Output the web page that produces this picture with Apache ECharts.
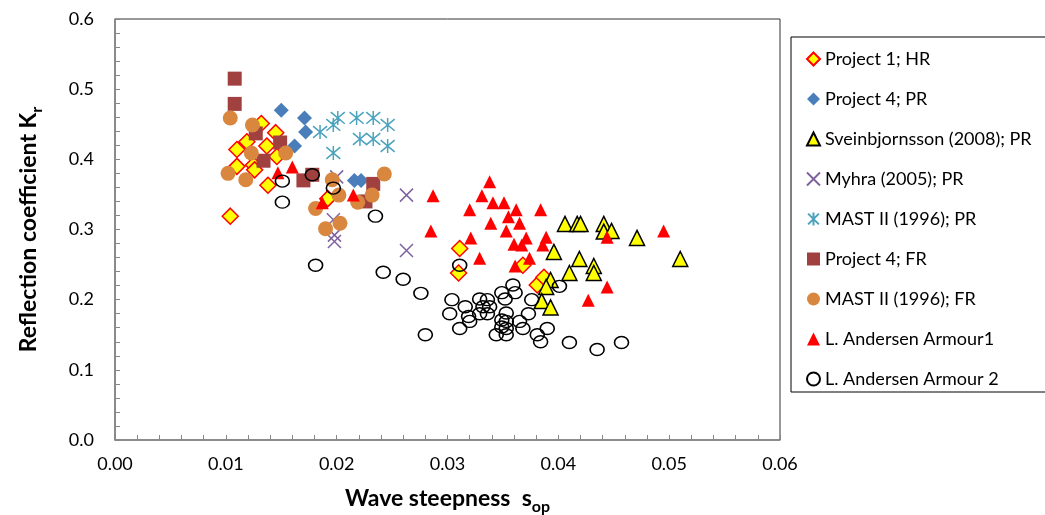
<!DOCTYPE html>
<html>
<head>
<meta charset="utf-8">
<script src="https://cdn.jsdelivr.net/npm/echarts@6/dist/echarts.min.js"></script>
<style>
html,body{margin:0;padding:0;background:#fff;}
#chart{width:1045px;height:515px;}
</style>
</head>
<body>
<div id="chart"></div>
<script>
// ---- data (wave steepness s_op, reflection coefficient Kr) ----
const seriesNames = [
  'Project 1; HR', 'Project 4; PR', 'Sveinbjornsson (2008); PR', 'Myhra (2005); PR',
  'MAST II (1996); PR', 'Project 4; FR', 'MAST II (1996); FR', 'L. Andersen Armour1', 'L. Andersen Armour 2'
];
const project1HR = [
  [0.0104,0.319],[0.0138,0.363],[0.0110,0.414],[0.0110,0.390],[0.0119,0.425],[0.0132,0.451],
  [0.0145,0.438],[0.0137,0.419],[0.0125,0.392],[0.0126,0.385],[0.0146,0.404],[0.0192,0.344],
  [0.0311,0.273],[0.0310,0.238],[0.0368,0.249],[0.0381,0.221],[0.0387,0.232]
];
const project4PR = [
  [0.0150,0.470],[0.0171,0.459],[0.0172,0.439],[0.0162,0.419],[0.0216,0.370],[0.0222,0.370]
];
const sveinbjornsson = [
  [0.0406,0.308],[0.0417,0.308],[0.0420,0.308],[0.0441,0.308],[0.0441,0.297],[0.0448,0.298],
  [0.0471,0.288],[0.0510,0.258],[0.0396,0.268],[0.0419,0.258],[0.0432,0.248],[0.0432,0.238],
  [0.0410,0.238],[0.0393,0.228],[0.0389,0.218],[0.0385,0.198],[0.0393,0.189]
];
const myhra = [
  [0.0200,0.375],[0.0263,0.349],[0.0197,0.314],[0.0198,0.292],[0.0198,0.283],[0.0263,0.270]
];
const mastPR = [
  [0.0185,0.439],[0.0197,0.449],[0.0201,0.459],[0.0218,0.459],[0.0233,0.459],[0.0246,0.449],
  [0.0221,0.429],[0.0233,0.429],[0.0246,0.419],[0.0197,0.409]
];
const project4FR = [
  [0.0108,0.515],[0.0108,0.479],[0.0127,0.437],[0.0149,0.424],[0.0134,0.398],[0.0170,0.370],
  [0.0178,0.378],[0.0233,0.365],[0.0226,0.340]
];
const mastFR = [
  [0.0104,0.459],[0.0124,0.449],[0.0102,0.380],[0.0118,0.371],[0.0123,0.409],[0.0154,0.409],
  [0.0196,0.371],[0.0202,0.349],[0.0181,0.330],[0.0190,0.301],[0.0203,0.309],[0.0243,0.379],
  [0.0232,0.349],[0.0219,0.339]
];
const andersen1 = [
  [0.0147,0.381],[0.0160,0.389],[0.0187,0.338],[0.0215,0.349],[0.0287,0.348],[0.0285,0.298],
  [0.0338,0.368],[0.0331,0.348],[0.0341,0.338],[0.0351,0.338],[0.0320,0.328],[0.0362,0.328],
  [0.0384,0.328],[0.0355,0.318],[0.0339,0.309],[0.0365,0.309],[0.0353,0.298],[0.0321,0.288],
  [0.0371,0.288],[0.0360,0.279],[0.0367,0.278],[0.0389,0.289],[0.0386,0.278],[0.0329,0.259],
  [0.0374,0.259],[0.0361,0.248],[0.0444,0.289],[0.0495,0.298],[0.0444,0.218],[0.0427,0.199]
];
const andersen2 = [
  [0.0151,0.369],[0.0151,0.339],[0.0178,0.378],[0.0197,0.359],[0.0181,0.249],[0.0235,0.319],
  [0.0242,0.239],[0.0260,0.229],[0.0276,0.209],[0.0280,0.150],[0.0311,0.249],[0.0304,0.200],
  [0.0316,0.190],[0.0302,0.180],[0.0319,0.176],[0.0320,0.169],[0.0311,0.159],[0.0329,0.201],
  [0.0336,0.200],[0.0332,0.190],[0.0338,0.190],[0.0329,0.180],[0.0336,0.180],[0.0349,0.210],
  [0.0359,0.221],[0.0361,0.210],[0.0352,0.201],[0.0353,0.181],[0.0349,0.171],[0.0353,0.169],
  [0.0349,0.161],[0.0353,0.159],[0.0344,0.150],[0.0353,0.150],[0.0365,0.169],[0.0373,0.180],
  [0.0368,0.159],[0.0376,0.200],[0.0381,0.150],[0.0384,0.140],[0.0390,0.159],[0.0401,0.219],
  [0.0410,0.139],[0.0435,0.129],[0.0457,0.139]
];
const xTickLabels = ['0.00','0.01','0.02','0.03','0.04','0.05','0.06'];
const yTickLabels = ['0.0','0.1','0.2','0.3','0.4','0.5','0.6'];

// ---- chart ----
const FONT = 'Lato, "Liberation Sans", sans-serif';
const X_PATH = 'path://M0,0L10,10M10,0L0,10';
const STAR_PATH = 'path://M0,0L10,10M10,0L0,10M5,-1L5,11';

function sc(name, data, symbol, size, style) {
  style.opacity = 1;
  return {
    name: name, type: 'scatter', data: data, symbol: symbol, symbolSize: size,
    itemStyle: style, emphasis: {disabled: true}, silent: true
  };
}

const chart = echarts.init(document.getElementById('chart'), null, {renderer: 'canvas'});
chart.setOption({
  animation: false,
  backgroundColor: '#fff',
  textStyle: {fontFamily: FONT},
  grid: {left: 115, right: 265, top: 19, bottom: 75, containLabel: false, outerBoundsMode: 'none',
    show: true, borderColor: '#333', borderWidth: 1, backgroundColor: 'transparent'},
  xAxis: {
    type: 'value', min: 0, max: 0.06, interval: 0.01,
    axisLine: {show: true, lineStyle: {color: '#868686', width: 1.5}},
    axisTick: {show: true, inside: true, length: 5, lineStyle: {color: '#868686'}},
    minorTick: {show: true, splitNumber: 5, length: 5, lineStyle: {color: '#868686'}},
    splitLine: {show: false},
    axisLabel: {margin: 15, fontSize: 18, color: '#000', fontFamily: FONT,
      formatter: function (v) { return xTickLabels[Math.round(v / 0.01)]; }},
    name: '{a|Wave steepness  s}{b|op}',
    nameLocation: 'middle', nameGap: 43,
    nameTextStyle: {rich: {
      a: {fontSize: 23, fontWeight: 'bold', color: '#000', fontFamily: FONT, lineHeight: 32},
      b: {fontSize: 16, fontWeight: 'bold', color: '#000', fontFamily: FONT, lineHeight: 16, verticalAlign: 'bottom'}
    }}
  },
  yAxis: {
    type: 'value', min: 0, max: 0.6, interval: 0.1,
    axisLine: {show: true, lineStyle: {color: '#868686', width: 1.5}},
    axisTick: {show: true, inside: true, length: 5, lineStyle: {color: '#868686'}},
    minorTick: {show: true, splitNumber: 5, length: 5, lineStyle: {color: '#868686'}},
    splitLine: {show: false},
    axisLabel: {margin: 21, fontSize: 18, color: '#000', fontFamily: FONT,
      formatter: function (v) { return yTickLabels[Math.round(v / 0.1)]; }},
    name: '{a|Reflection coefficient K}{b|r}',
    nameLocation: 'middle', nameGap: 70, nameRotate: 90,
    nameTextStyle: {rich: {
      a: {fontSize: 23, fontWeight: 'bold', color: '#000', fontFamily: FONT, lineHeight: 32},
      b: {fontSize: 16, fontWeight: 'bold', color: '#000', fontFamily: FONT, lineHeight: 16, verticalAlign: 'bottom'}
    }}
  },
  legend: {
    orient: 'vertical', left: 791, top: 37,
    padding: [13, 60, 4, 15], itemGap: 22, itemWidth: 13, itemHeight: 13,
    borderColor: '#000', borderWidth: 1, backgroundColor: '#fff',
    textStyle: {fontSize: 18, color: '#000', fontFamily: FONT, lineHeight: 14},
    data: seriesNames
  },
  series: [
    sc(seriesNames[0], project1HR, 'diamond', 16, {color: '#FFFF00', borderColor: '#FF0000', borderWidth: 1.5}),
    sc(seriesNames[1], project4PR, 'diamond', 15, {color: '#4A7EBB'}),
    sc(seriesNames[2], sveinbjornsson, 'triangle', 15, {color: '#FFFF00', borderColor: '#000', borderWidth: 1.5}),
    sc(seriesNames[3], myhra, X_PATH, 13, {color: 'rgba(0,0,0,0)', borderColor: '#7F63A0', borderWidth: 1.5}),
    sc(seriesNames[4], mastPR, STAR_PATH, 14, {color: 'rgba(0,0,0,0)', borderColor: '#4BA3BD', borderWidth: 1.5}),
    sc(seriesNames[5], project4FR, 'rect', 14, {color: '#A0403F'}),
    sc(seriesNames[6], mastFR, 'circle', 15, {color: '#D9873F'}),
    sc(seriesNames[7], andersen1, 'triangle', 13, {color: '#FF0000'}),
    sc(seriesNames[8], andersen2, 'circle', [14, 12], {color: 'rgba(0,0,0,0)', borderColor: '#000', borderWidth: 1.5})
  ]
});
</script>
</body>
</html>
